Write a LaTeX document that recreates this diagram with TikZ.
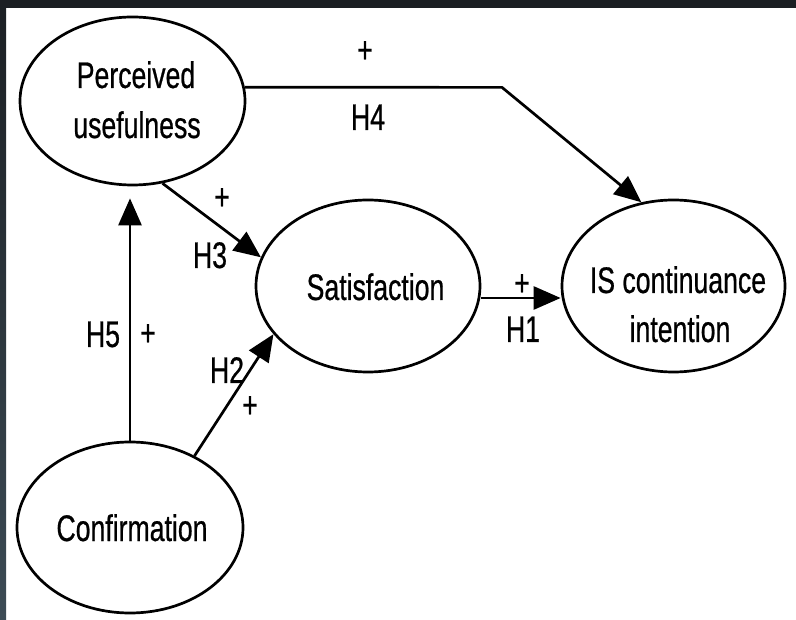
\documentclass[tikz,border=0pt]{standalone}
\usepackage{fontspec}
\setmainfont{Liberation Sans}[FakeStretch=0.72,FakeBold=0.6]
\usetikzlibrary{shapes.geometric,arrows.meta}
\definecolor{frametop}{HTML}{1B1F23}
\definecolor{framebot}{HTML}{3C4B55}
\begin{document}
\begin{tikzpicture}[x=1pt,y=-1pt,
  ell/.style={draw=black,line width=2.7pt,ellipse,inner sep=0pt,fill=white},
  txt/.style={anchor=base,inner sep=0pt,font=\fontsize{37}{44}\selectfont},
  conn/.style={draw=black,line width=2.7pt,-{Triangle[length=27pt,width=23pt]}},
  plain/.style={draw=black,line width=2.7pt}]
\useasboundingbox (0,0) rectangle (796,620);
\fill[white] (0,0) rectangle (796,620);
\fill[frametop] (0,0) rectangle (796,8);
\shade[top color=frametop,bottom color=framebot] (0,0) rectangle (6,620);
% ellipses
\node[ell,minimum width=225pt,minimum height=168pt] (pu) at (132.5,101) {};
\node[ell,minimum width=224pt,minimum height=172pt] (sat) at (368,286) {};
\node[ell,minimum width=223pt,minimum height=172pt] (isc) at (673.5,286) {};
\node[ell,minimum width=226pt,minimum height=171pt] (conf) at (130,527.5) {};
% node texts
\node[txt] (put1) at (136,88) {Perceived};
\node[txt] (put2) at (137,138) {usefulness};
\node[txt] (satt) at (375.5,300) {Satisfaction};
\node[txt] (isct1) at (678,293) {IS continuance};
\node[txt] (isct2) at (680,342) {intention};
\node[txt] (conft) at (132,541) {Confirmation};
% connectors
\coordinate (h4c) at (502,87.4);
\draw[conn] (pu.7) -- (h4c) -- (isc.111);
\draw[conn] (pu.-70) -- (sat.165.5);
\draw[conn] (conf.48.9) -- (sat.207.5);
\draw[conn] ([yshift=-12pt]sat.east) -- ([yshift=-12pt]isc.west);
\draw[conn,shorten >=12pt] (conf.north) -- (conf.north |- pu.south);
% labels
\node[txt] (p4) at (365,62.6) {+};
\node[txt] (h4) at (368,130) {H4};
\node[txt] (p3) at (222,209.6) {+};
\node[txt] (h3) at (210,268) {H3};
\node[txt] (h5) at (103,347) {H5};
\node[txt] (p5) at (148,345.6) {+};
\node[txt] (h2) at (227,383) {H2};
\node[txt] (p2) at (250,417.6) {+};
\node[txt] (p1) at (522,295.6) {+};
\node[txt] (h1) at (523,342) {H1};
\end{tikzpicture}
\end{document}
